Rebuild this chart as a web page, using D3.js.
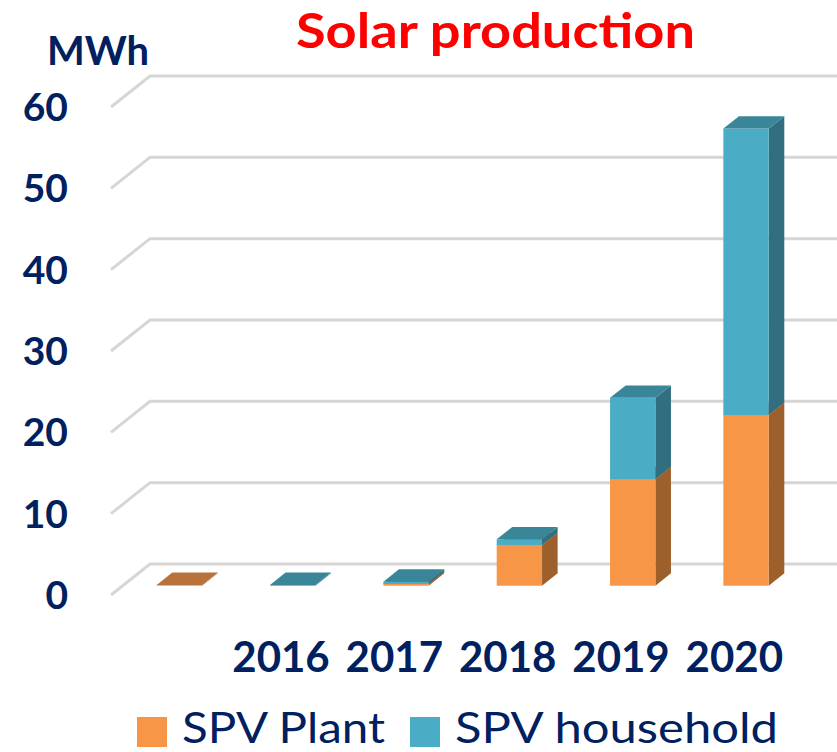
<!DOCTYPE html>
<html>
<head>
<meta charset="utf-8">
<script src="https://cdn.jsdelivr.net/npm/d3@7"></script>
<style>
  html, body { margin: 0; padding: 0; background: #fff; }
  svg text { font-family: Lato, "Noto Sans", sans-serif; }
</style>
</head>
<body>
<div id="chart"></div>
<script>
// data (MWh)
var categories = ["", "2016", "2017", "2018", "2019", "2020"];
var plant = [0.1, 0, 0.2, 5.0, 13.1, 21.0];
var household = [0, 0.1, 0.3, 0.7, 10.0, 35.2];
var seriesNames = ["SPV Plant", "SPV household"];
var yTicks = [0, 10, 20, 30, 40, 50, 60];

var width = 837, height = 752;
var navy = "#002060";

// colours: front, side, top
var colors = [
	{front: "#f79646", side: "#9d5f2b", top: "#b9733a"},
	{front: "#4bacc6", side: "#316f80", top: "#3a8699"}
];

// 3d depth of the floor / wall
var depth = {dx: 39, dy: -31};
var barZ0 = 0.3, barZ1 = 0.7;

function proj(x, y, z) {
	return [x + depth.dx * z, y + depth.dy * z];
}

var svg = d3.select("#chart").append("svg")
	.attr("width", width)
	.attr("height", height);

var x = d3.scaleBand()
	.domain(categories.map(function(d, i) { return i; }))
	.range([111, 791])
	.paddingInner(0.6)
	.paddingOuter(0.3);

var y = d3.scaleLinear()
	.domain([0, 60])
	.range([595, 107]);

// title + unit
svg.append("text")
	.attr("x", 296).attr("y", 48)
	.attr("textLength", 399)
	.attr("lengthAdjust", "spacingAndGlyphs")
	.style("font-size", "48px")
	.style("font-weight", "bold")
	.style("fill", "#ff0000")
	.text("Solar production");

svg.append("text")
	.attr("x", 98).attr("y", 65)
	.attr("text-anchor", "middle")
	.style("font-size", "40px")
	.style("font-weight", "bold")
	.style("fill", navy)
	.text("MWh");

// gridlines: diagonal on the side, horizontal along the back wall
var grid = svg.append("g").attr("class", "grid");
yTicks.forEach(function(t) {
	var a = proj(111, y(t), 0), b = proj(111, y(t), 1);
	grid.append("path")
		.attr("d", "M" + a + "L" + b + "L" + width + "," + b[1])
		.style("fill", "none")
		.style("stroke", "#d6d6d6")
		.style("stroke-width", 3);
});

// y tick labels
svg.append("g").selectAll("text")
	.data(yTicks)
	.enter().append("text")
	.attr("x", 68)
	.attr("y", function(d) { return y(d); })
	.attr("dy", "0.36em")
	.attr("text-anchor", "end")
	.style("font-size", "39px")
	.style("font-weight", "bold")
	.style("fill", navy)
	.text(function(d) { return d; });

// stacked bars
var rows = categories.map(function(c, i) { return {i: i, plant: plant[i], household: household[i]}; });
var stack = d3.stack().keys(["plant", "household"])(rows);

var bars = svg.append("g").attr("class", "bars");
rows.forEach(function(r, i) {
	stack.forEach(function(layer, k) {
		var seg = layer[i];
		if (seg[1] - seg[0] <= 0) return;
		var x0 = x(i), x1 = x(i) + x.bandwidth();
		var yb = y(seg[0]), yt = y(seg[1]);
		var c = colors[k];
		var fL = proj(x0, yt, barZ0), fR = proj(x1, yt, barZ0);
		var fRb = proj(x1, yb, barZ0), fLb = proj(x0, yb, barZ0);
		var bR = proj(x1, yt, barZ1), bL = proj(x0, yt, barZ1), bRb = proj(x1, yb, barZ1);
		// side
		bars.append("path")
			.attr("d", "M" + fR + "L" + bR + "L" + bRb + "L" + fRb + "Z")
			.style("fill", c.side);
		// front
		bars.append("path")
			.attr("d", "M" + fL + "L" + fR + "L" + fRb + "L" + fLb + "Z")
			.style("fill", c.front);
		// top
		bars.append("path")
			.attr("d", "M" + fL + "L" + fR + "L" + bR + "L" + bL + "Z")
			.style("fill", c.top);
	});
});

// category labels
svg.append("g").selectAll("text")
	.data(categories)
	.enter().append("text")
	.attr("x", function(d, i) { return x(i) + x.bandwidth() / 2; })
	.attr("y", 672)
	.attr("text-anchor", "middle")
	.style("font-size", "42px")
	.style("font-weight", "bold")
	.style("fill", navy)
	.text(function(d) { return d; });

// legend
var legendX = [137, 410];
var legendW = [203, 323];
var legend = svg.append("g").selectAll("g")
	.data(seriesNames)
	.enter().append("g")
	.attr("transform", function(d, i) { return "translate(" + legendX[i] + ",717)"; });
legend.append("rect")
	.attr("width", 30).attr("height", 30)
	.style("fill", function(d, i) { return colors[i].front; });
legend.append("text")
	.attr("x", 45).attr("y", 26)
	.attr("textLength", function(d, i) { return legendW[i]; })
	.attr("lengthAdjust", "spacingAndGlyphs")
	.style("font-size", "42px")
	.style("fill", navy)
	.text(function(d) { return d; });
</script>
</body>
</html>
